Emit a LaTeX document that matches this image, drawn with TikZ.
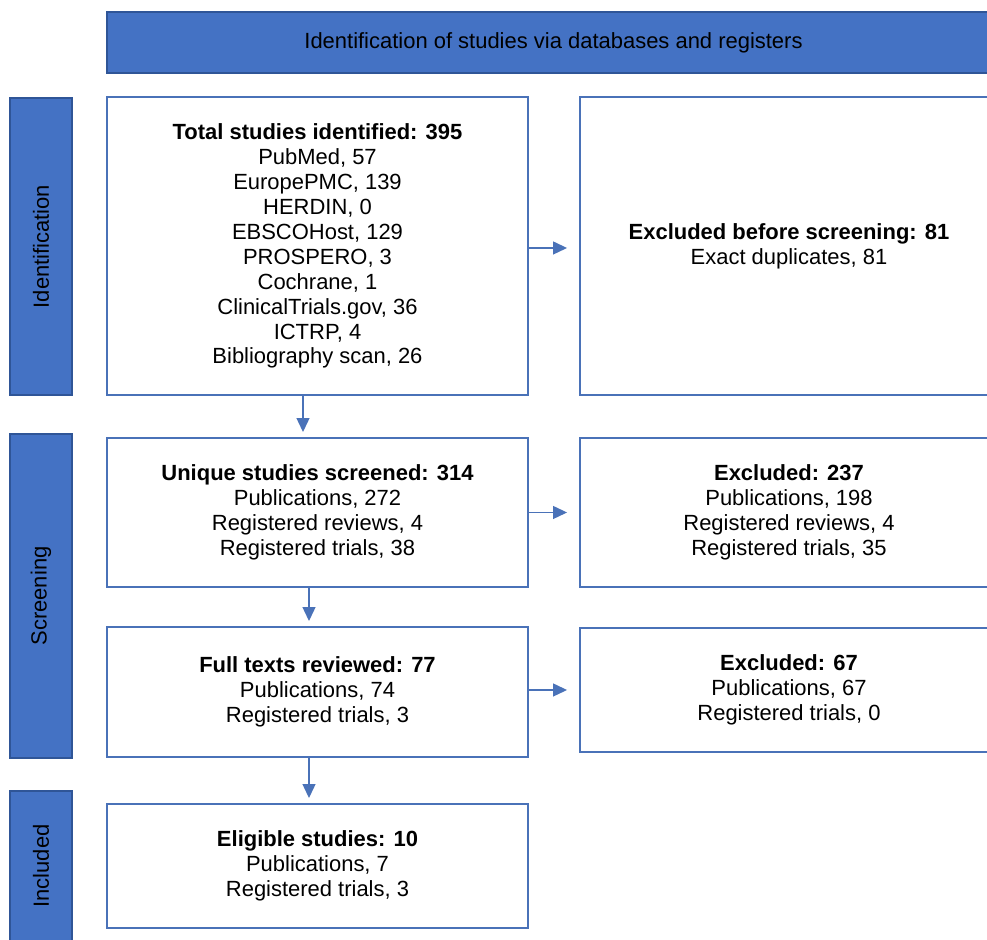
\documentclass[tikz,border=0pt]{standalone}
\usepackage{fontspec}
\setmainfont{Liberation Sans}
\usepackage{tikz}
\usetikzlibrary{arrows.meta, positioning}

\definecolor{barblue}{HTML}{4472C4}
\definecolor{bardark}{HTML}{2F5597}
\definecolor{lineblue}{HTML}{4A72B8}

\begin{document}
\begin{tikzpicture}[
    font=\fontsize{12.5}{14.2}\selectfont,
    box/.style={draw=lineblue, line width=1.1pt, fill=white, rectangle, minimum width=8.42cm, align=center},
    exbox/.style={draw=lineblue, line width=1.1pt, fill=white, rectangle, minimum width=8.36cm, align=center},
    bar/.style={draw=bardark, line width=0.8pt, fill=barblue, rectangle, minimum width=1.24cm, inner sep=0pt},
    arrow/.style={-{Triangle[length=2.8mm, width=2.6mm]}, draw=lineblue, line width=0.75pt}
]
\useasboundingbox (0,0) rectangle (19.74,18.8);
\clip (0,0) rectangle (19.74,18.8);

% Header
\node[bar, minimum width=17.86cm, minimum height=1.22cm] (head) at (11.07,17.95)
{Identification of studies via databases and registers};

% Stage bars
\node[bar, minimum height=5.94cm] (idbar) at (0.82,13.87) {};
\node[rotate=90] at (idbar) {Identification};
\node[bar, minimum height=6.48cm] (scrbar) at (0.82,6.88) {};
\node[rotate=90] at (scrbar) {Screening};
\node[bar, minimum height=3.08cm] (incbar) at (0.82,1.44) {};
\node[rotate=90] at ([yshift=0.04cm]incbar) {Included};

% Main boxes
\node[box, minimum height=5.96cm] (total) at (6.35,13.88)
{\textbf{Total studies identified: 395}\\ PubMed, 57\\ EuropePMC, 139\\ HERDIN, 0\\
 EBSCOHost, 129\\ PROSPERO, 3\\ Cochrane, 1\\ ClinicalTrials.gov, 36\\ ICTRP, 4\\
 Bibliography scan, 26};
\node[box, minimum height=2.98cm] (unique) at (6.35,8.55)
{\textbf{Unique studies screened: 314}\\ Publications, 272\\ Registered reviews, 4\\ Registered trials, 38};
\node[box, minimum height=2.6cm] (full) at (6.35,4.96)
{\textbf{Full texts reviewed: 77}\\ Publications, 74\\ Registered trials, 3};
\node[box, minimum height=2.48cm] (elig) at (6.35,1.48)
{\textbf{Eligible studies: 10}\\ Publications, 7\\ Registered trials, 3};

% Excluded boxes
\node[exbox, minimum height=5.96cm] (exdup) at (15.78,13.88)
{\textbf{Excluded before screening: 81}\\ Exact duplicates, 81};
\node[exbox, minimum height=2.98cm] (exscr) at (15.78,8.55)
{\textbf{Excluded: 237}\\ Publications, 198\\ Registered reviews, 4\\ Registered trials, 35};
\node[exbox, minimum height=2.48cm] (exfull) at (15.78,5.0)
{\textbf{Excluded: 67}\\ Publications, 67\\ Registered trials, 0};

% Arrows
\draw[arrow, shorten >=0.24cm] ([yshift=-0.04cm]total.east) -- ([yshift=-0.04cm]total.east -| exdup.west);
\draw[arrow, shorten >=0.24cm] (unique.east) -- (unique.east -| exscr.west);
\draw[arrow, shorten >=0.24cm] ([yshift=0.04cm]full.east) -- ([yshift=0.04cm]full.east -| exfull.west);
\draw[arrow, shorten >=0.1cm] ([xshift=-0.29cm]total.south) -- ([xshift=-0.29cm]total.south |- unique.north);
\draw[arrow, shorten >=0.1cm] ([xshift=-0.17cm]unique.south) -- ([xshift=-0.17cm]unique.south |- full.north);
\draw[arrow, shorten >=0.1cm] ([xshift=-0.17cm]full.south) -- ([xshift=-0.17cm]full.south |- elig.north);

\end{tikzpicture}
\end{document}
